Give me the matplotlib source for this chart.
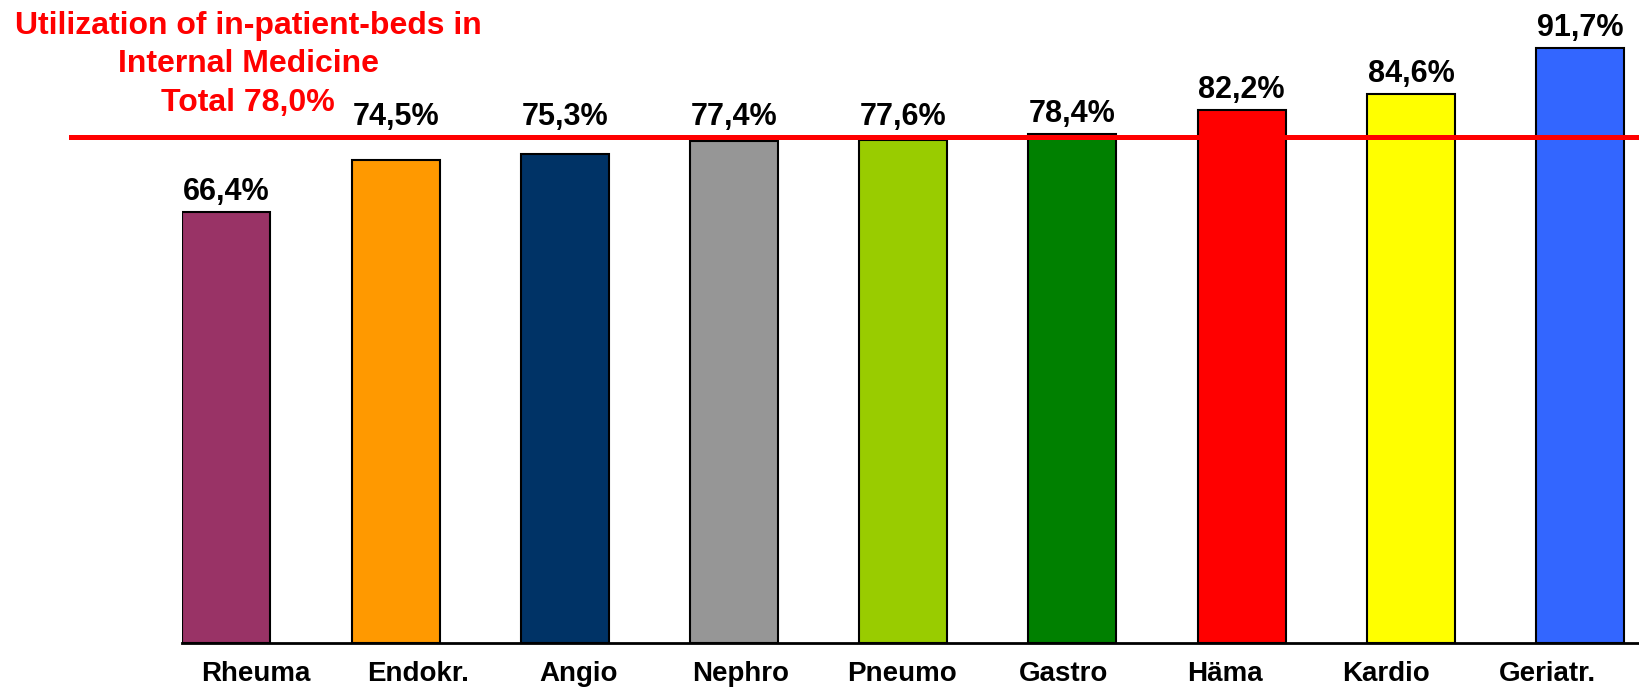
import matplotlib
matplotlib.use('Agg')
import matplotlib.pyplot as plt

# Daten
categories = ['Rheuma', 'Endokr.', 'Angio', 'Nephro', 'Pneumo', 'Gastro', 'Häma', 'Kardio', 'Geriatr.']
values = [66.4, 74.5, 75.3, 77.4, 77.6, 78.4, 82.2, 84.6, 91.7]
value_labels = ['66,4%', '74,5%', '75,3%', '77,4%', '77,6%', '78,4%', '82,2%', '84,6%', '91,7%']
colors = ['#993366', '#FF9900', '#003366', '#969696', '#99CC00', '#008000', '#FF0000', '#FFFF00', '#3366FF']
total = 78.0
title = 'Utilization of in-patient-beds in\nInternal Medicine\nTotal 78,0%'

plt.rcParams['font.family'] = ['Liberation Sans', 'DejaVu Sans']

fig = plt.figure(figsize=(16.39, 6.9), dpi=100)
ax = fig.add_axes([0.1113, 0.0681, 0.8887, 0.9319])

x = list(range(len(categories)))
ax.bar(x, values, width=0.52, color=colors, edgecolor='black', linewidth=1.5, zorder=2)

# Werte ueber den Balken (knapp unter der Linie liegende Werte werden ueber die Linie gesetzt)
for xi, v, lab in zip(x, values, value_labels):
    y = total if total - 6 < v < total else v
    ax.annotate(lab, (xi, y), xytext=(0, 3.5), textcoords='offset points',
                ha='center', va='bottom', fontsize=22, fontweight='bold', color='black')

# Gesamtlinie
ax.axhline(total, xmin=-0.0765, xmax=1.0, color='red', linewidth=3.6, zorder=3, clip_on=False)

ax.set_xlim(-0.26, 8.348)
ax.set_ylim(0, 99.1)

# Beschriftungen der Kategorien (leicht versetzt wie im Original)
tick_pos = [0.176 + 0.954 * i for i in x]
ax.set_xticks(tick_pos)
ax.set_xticklabels(categories, fontsize=20, fontweight='bold')
ax.tick_params(axis='x', length=0, pad=13)
ax.set_yticks([])

for side in ['top', 'right', 'left']:
    ax.spines[side].set_visible(False)
ax.spines['bottom'].set_linewidth(2)
ax.spines['bottom'].set_zorder(4)

fig.text(248 / 1639, 1 - 11 / 690, title, ha='center', va='top', multialignment='center',
         color='red', fontsize=23, fontweight='bold', linespacing=1.36)

fig.savefig('out.png', dpi=100)
